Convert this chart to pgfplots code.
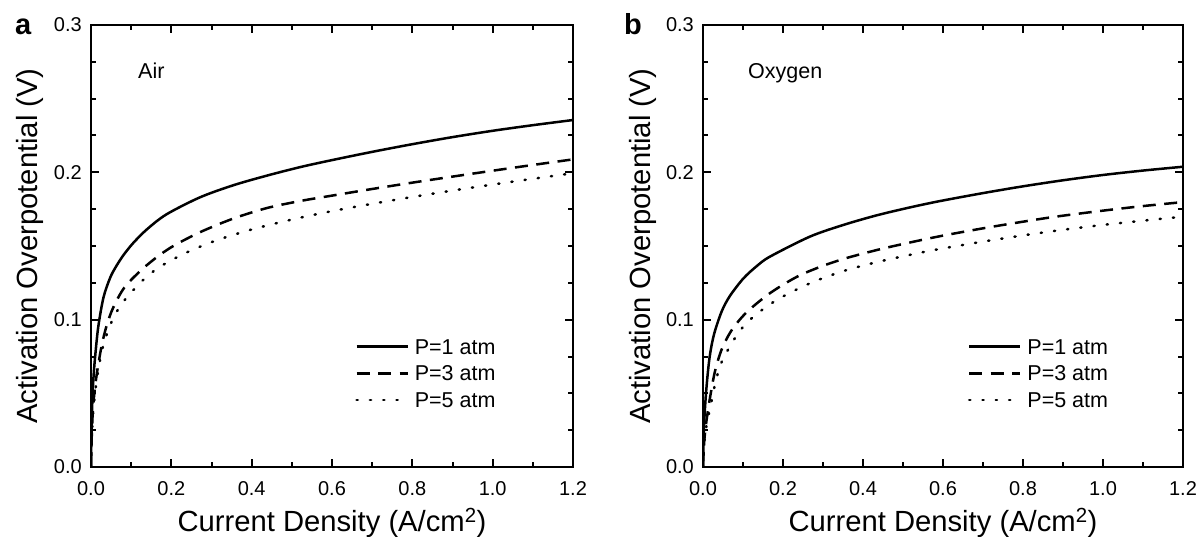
\documentclass[border=0pt]{standalone}
\usepackage{fontspec}
\setmainfont{Liberation Sans}
\usepackage{pgfplots}
\pgfplotsset{compat=1.18}

\pgfplotstableread{
x y
0 0
0.001 0.020
0.003 0.042
0.006 0.060
0.010 0.074
0.018 0.095
0.031 0.115
0.047 0.128
0.060 0.135
0.080 0.1435
0.105 0.152
0.140 0.1615
0.188 0.1715
0.271 0.1830
0.354 0.1912
0.437 0.1977
0.520 0.2035
0.600 0.2083
0.700 0.2139
0.800 0.2191
0.900 0.2239
1.000 0.2282
1.100 0.2320
1.200 0.2355
}\airA
\pgfplotstableread{
x y
0 0
0.002 0.022
0.005 0.040
0.010 0.054
0.016 0.066
0.027 0.083
0.039 0.096
0.055 0.108
0.085 0.1225
0.139 0.137
0.197 0.1487
0.271 0.1593
0.354 0.1686
0.437 0.1757
0.520 0.1805
0.600 0.1842
0.700 0.1887
0.800 0.1930
0.900 0.1971
1.000 0.2011
1.100 0.2050
1.200 0.2088
}\airB
\pgfplotstableread{
x y
0 0
0.002 0.020
0.005 0.036
0.010 0.050
0.017 0.064
0.028 0.080
0.043 0.093
0.060 0.1035
0.080 0.112
0.105 0.120
0.134 0.1280
0.172 0.136
0.238 0.1456
0.313 0.1539
0.396 0.1609
0.479 0.1666
0.562 0.1716
0.650 0.1762
0.750 0.1810
0.850 0.1855
0.950 0.1897
1.050 0.1937
1.200 0.1994
}\airC
\pgfplotstableread{
x y
0 0
0.002 0.025
0.0075 0.050
0.016 0.0735
0.0275 0.0900
0.047 0.1058
0.0675 0.1162
0.101 0.1280
0.135 0.1365
0.1675 0.1428
0.2675 0.1564
0.351 0.1643
0.434 0.1708
0.5175 0.1762
0.5925 0.1805
0.700 0.1859
0.800 0.1905
0.900 0.1946
1.000 0.1982
1.100 0.2012
1.200 0.2038
}\oxA
\pgfplotstableread{
x y
0 0
0.003 0.017
0.008 0.030
0.0175 0.047
0.030 0.065
0.047 0.080
0.072 0.093
0.109 0.1050
0.1675 0.1180
0.234 0.1290
0.2925 0.1358
0.351 0.1412
0.409 0.1455
0.4675 0.1494
0.584 0.1562
0.700 0.1620
0.800 0.1665
0.884 0.1700
1.000 0.1740
1.100 0.1771
1.200 0.1798
}\oxB
\pgfplotstableread{
x y
0 0
0.003 0.016
0.008 0.027
0.020 0.043
0.030 0.056
0.047 0.0715
0.088 0.0909
0.126 0.1020
0.184 0.1133
0.2675 0.1247
0.351 0.1330
0.434 0.1390
0.5175 0.1440
0.584 0.1476
0.700 0.1530
0.800 0.1572
0.900 0.1610
1.000 0.1643
1.100 0.1672
1.200 0.1699
}\oxC

\pgfplotsset{
  panel/.style={
    scale only axis, height=442pt,
    xmin=0, xmax=1.2, ymin=0, ymax=0.3,
    xtick={0,0.2,0.4,0.6,0.8,1.0,1.2}, ytick={0,0.1,0.2,0.3},
    minor x tick num=1, minor y tick num=3,
    major tick length=8pt, minor tick length=5pt,
    tick align=inside,
    axis line style={line width=2.6pt},
    tick style={black, line width=2pt},
    /pgf/number format/assume math mode=true,
    /pgf/number format/fixed,
    /pgf/number format/fixed zerofill,
    /pgf/number format/precision=1,
    ticklabel style={font=\fontsize{20}{24}\selectfont},
    yticklabel style={anchor=east, inner sep=0pt, xshift=-9pt},
    xticklabel style={anchor=north, inner sep=0pt, yshift=-14.7pt},
    xlabel={Current Density (A/cm\textsuperscript{2})},
    ylabel={Activation Overpotential (V)},
    xlabel style={at={(axis description cs:0.5,-0.1464)}, anchor=base, inner sep=0pt, font=\fontsize{29.2}{33}\selectfont},
    ylabel style={at={(axis description cs:-0.110,0.5)}, anchor=base, inner sep=0pt, font=\fontsize{29.2}{33}\selectfont},
    legend cell align=left,
    legend image code/.code={\draw[#1] (0pt,0pt) -- (51pt,0pt);},
    legend style={anchor=north west, draw=none, fill=none, inner sep=0pt, inner xsep=0pt, inner ysep=0pt,
      row sep=11.8pt, font=\fontsize{21.5}{25}\selectfont,
      nodes={inner sep=0pt, text depth=0pt},
      /tikz/every odd column/.append style={column sep=6pt}},
    every axis plot/.append style={black, line width=2.5pt, line join=round},
  },
  s1/.style={solid},
  s3/.style={dash pattern=on 13pt off 8.5pt},
  s5/.style={line cap=round, dash pattern=on 1.2pt off 12.1pt},
}

\begin{document}
\begin{tikzpicture}[x=1pt,y=1pt]
\useasboundingbox (0,0) rectangle (1202,-537);

\begin{axis}[panel, width=482pt, at={(91pt,-467pt)}, anchor=south west,
  legend style={at={(axis description cs:0.548,0.2895)}}]
\addplot[s1, smooth] table[x=x,y=y] {\airA};
\addlegendentry{P=1 atm}
\addplot[s3, smooth] table[x=x,y=y] {\airB};
\addlegendentry{P=3 atm}
\addplot[s5, smooth] table[x=x,y=y] {\airC};
\addlegendentry{P=5 atm}
\node[anchor=base west, inner sep=0pt, font=\fontsize{21.5}{25}\selectfont] at (axis description cs:0.0975,0.879) {Air};
\end{axis}

\begin{axis}[panel, width=480pt, at={(703pt,-467pt)}, anchor=south west,
  legend style={at={(axis description cs:0.5515,0.2895)}}]
\addplot[s1, smooth] table[x=x,y=y] {\oxA};
\addlegendentry{P=1 atm}
\addplot[s3, smooth] table[x=x,y=y] {\oxB};
\addlegendentry{P=3 atm}
\addplot[s5, smooth] table[x=x,y=y] {\oxC};
\addlegendentry{P=5 atm}
\node[anchor=base west, inner sep=0pt, font=\fontsize{21.5}{25}\selectfont] at (axis description cs:0.09375,0.879) {Oxygen};
\end{axis}

\node[anchor=base west, inner sep=0pt, font=\bfseries\fontsize{29}{33}\selectfont] at (15,-35) {a};
\node[anchor=base west, inner sep=0pt, font=\bfseries\fontsize{29}{33}\selectfont] at (624,-35) {b};
\end{tikzpicture}
\end{document}
